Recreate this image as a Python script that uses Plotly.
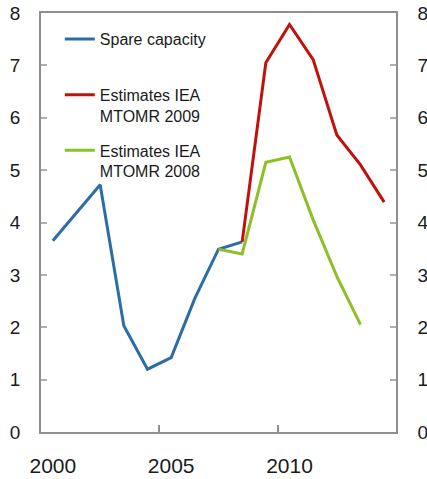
import plotly.graph_objects as go

# ---- data ----
years_spare = [2000, 2001, 2002, 2003, 2004, 2005, 2006, 2007, 2008]
spare = [3.65, 4.18, 4.72, 2.03, 1.20, 1.42, 2.55, 3.49, 3.63]

years_2009 = [2008, 2009, 2010, 2011, 2012, 2013, 2014]
iea2009 = [3.63, 7.05, 7.78, 7.11, 5.67, 5.10, 4.39]

years_2008 = [2007, 2008, 2009, 2010, 2011, 2012, 2013]
iea2008 = [3.49, 3.40, 5.15, 5.25, 4.05, 2.97, 2.05]

names = ["Spare capacity", "Estimates IEA<br>MTOMR 2009", "Estimates IEA<br>MTOMR 2008"]
x_ticks = [2000, 2005, 2010]
x_minor = [2004.5, 2009.5]
y_ticks = [0, 1, 2, 3, 4, 5, 6, 7, 8]

BLUE = "#2C6DA8"
RED = "#C0110C"
GREEN = "#8CC026"
FRAME = "#8f8f8f"
TEXT = "#1a1a1a"
FONT = "Liberation Sans, Arial, sans-serif"

fig = go.Figure()
fig.add_trace(go.Scatter(x=years_spare, y=spare, mode="lines", name=names[0] + "<br>\u00a0",
                         line=dict(color=BLUE, width=3), legendgroup="a"))
fig.add_trace(go.Scatter(x=years_2009, y=iea2009, mode="lines", name=names[1],
                         line=dict(color=RED, width=3), legendgroup="b"))
fig.add_trace(go.Scatter(x=years_2008, y=iea2008, mode="lines", name=names[2],
                         line=dict(color=GREEN, width=3), legendgroup="c"))
# helper trace so the right-hand axis is drawn
fig.add_trace(go.Scatter(x=years_spare, y=spare, mode="lines", yaxis="y2", showlegend=False,
                         hoverinfo="skip", opacity=0, line=dict(width=0)))

axis_common = dict(showgrid=False, zeroline=False, showline=True, linecolor=FRAME,
                   linewidth=1.5, automargin=False, ticklabeloverflow="allow")

fig.update_layout(
    width=427, height=479,
    margin=dict(l=41, r=31, t=13, b=47),
    paper_bgcolor="white", plot_bgcolor="white",
    font=dict(family=FONT, color=TEXT),
    showlegend=True,
    legend=dict(x=0.053, y=0.978, xanchor="left", yanchor="top", valign="top",
                font=dict(size=16, color=TEXT, family=FONT), bgcolor="rgba(0,0,0,0)",
                tracegroupgap=11, itemwidth=30),
    xaxis=dict(range=[1999.5, 2014.5], tickmode="array", tickvals=x_ticks,
               ticks="inside", ticklen=0, tickfont=dict(size=21), ticklabelstandoff=14, mirror=True,
               minor=dict(tickmode="array", tickvals=x_minor, ticks="inside", ticklen=7,
                          tickcolor=FRAME, tickwidth=1.5),
               **axis_common),
    yaxis=dict(range=[0, 8], tickmode="array", tickvals=y_ticks, ticks="inside", ticklen=6,
               tickcolor="#b0b0b0", tickwidth=1.5, tickfont=dict(size=19),
               ticklabelstandoff=15, mirror=True, **axis_common),
    yaxis2=dict(range=[0, 8], overlaying="y", side="right", tickmode="array", tickvals=y_ticks,
                ticks="inside", ticklen=6, tickcolor="#b0b0b0", tickwidth=1.5,
                tickfont=dict(size=19), ticklabelstandoff=16, matches="y", **axis_common),
)

# remove the default 8px page margin so the figure fills the 427x479 window exactly
fig.write_html("out.html", config={"displayModeBar": False},
               post_script="document.body.style.margin='0';")
